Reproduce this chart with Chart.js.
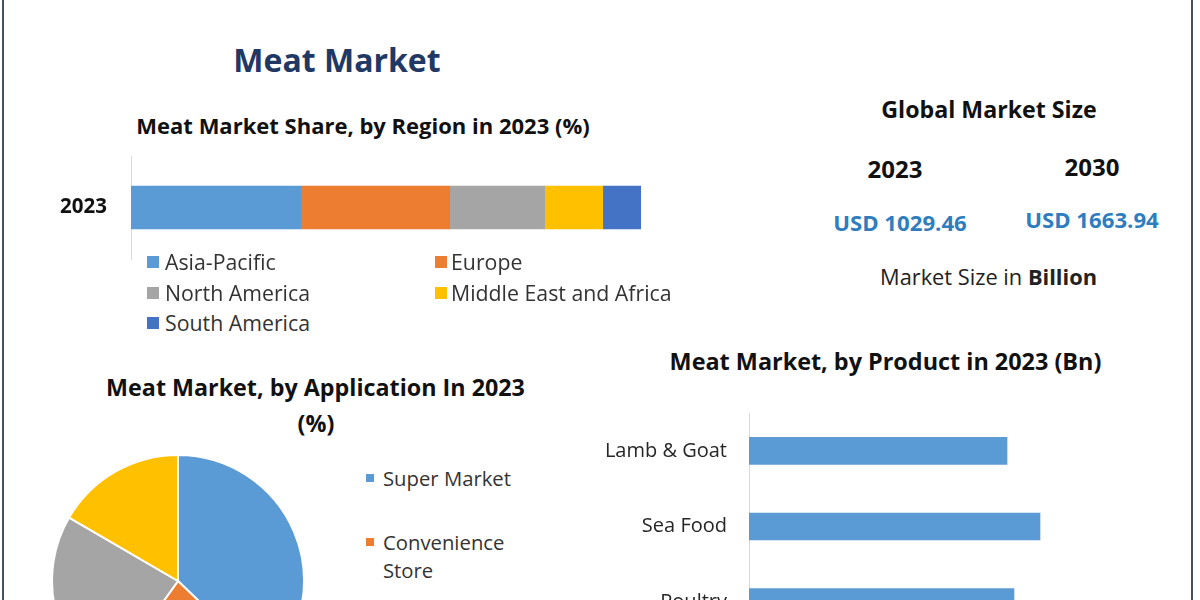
<!DOCTYPE html>
<html>
<head>
<meta charset="utf-8">
<script src="https://cdn.jsdelivr.net/npm/chart.js@4.4.0/dist/chart.umd.min.js"></script>
<style>
  html, body { margin: 0; padding: 0; background: #fff; }
  body { width: 1200px; height: 600px; overflow: hidden; font-family: 'Open Sans', sans-serif; }
  #page { position: relative; width: 1200px; height: 600px; overflow: hidden; background: #fff; }
  .edge { position: absolute; top: 0; width: 2px; height: 600px; background: #44525f; }
  .t { position: absolute; white-space: nowrap; line-height: 1; transform: translate(-50%, -50%); color: #111; }
  .b { font-weight: 700; }
  canvas { position: absolute; }
  .leg { position: absolute; white-space: nowrap; line-height: 1; transform: translateY(-50%); color: #333; font-size: 21.3px; }
  .sq { position: absolute; }
  #appLegend { position: absolute; left: 366px; top: 464px; width: 170px; }
  .ai { position: relative; padding-left: 17px; font-size: 20.3px; line-height: 28px; color: #333; margin-bottom: 36px; }
  .ai span.m { position: absolute; left: 0; top: 10px; width: 8px; height: 8px; }
</style>
</head>
<body>
<div id="page">
  <div class="edge" style="left:2px"></div>
  <div class="edge" style="left:1191px"></div>
  <canvas id="regionChart" width="601" height="115" style="left:40px; top:150px"></canvas>
  <canvas id="appChart" width="258" height="258" style="left:49px; top:452px"></canvas>
  <canvas id="productChart" width="569" height="227" style="left:580px; top:413px"></canvas>
  <div id="appLegend"></div>
</div>
<script>
// ---- data ----
const pageTitle = 'Meat Market';
const regionTitle = 'Meat Market Share, by Region in 2023 (%)';
const regionYears = ['2023'];
const regionLabels = ['Asia-Pacific', 'Europe', 'North America', 'Middle East and Africa', 'South America'];
const regionShares = [33.3, 29.2, 18.6, 11.4, 7.5];
const regionColors = ['#5b9bd5', '#ed7d31', '#a5a5a5', '#ffc000', '#4472c4'];

const sizeTitle = 'Global Market Size';
const marketYears = ['2023', '2030'];
const marketSizes = [1029.46, 1663.94];
const sizeNoteText = 'Market Size in ';
const sizeNoteUnit = 'Billion';

const appTitleLines = ['Meat Market, by Application In 2023', '(%)'];
const appLabels = ['Super Market', 'Convenience Store', 'Online Store', 'Others'];
const appShares = [37.2, 22.7, 23.5, 16.6];
const appColors = ['#5b9bd5', '#ed7d31', '#a5a5a5', '#ffc000'];

const productTitle = 'Meat Market, by Product in 2023 (Bn)';
const productLabels = ['Lamb & Goat', 'Sea Food', 'Poultry'];
const productValues = [258, 291, 265];
const productColor = '#5b9bd5';

// ---- text helpers ----
const page = document.getElementById('page');
function addText(html, x, y, size, opts) {
  opts = opts || {};
  const d = document.createElement('div');
  d.className = 't' + (opts.bold ? ' b' : '');
  d.style.left = x + 'px';
  d.style.top = y + 'px';
  d.style.fontSize = size + 'px';
  if (opts.color) d.style.color = opts.color;
  d.innerHTML = html;
  page.appendChild(d);
  return d;
}
function esc(s) { return s.replace(/&/g, '&amp;').replace(/</g, '&lt;'); }

addText(esc(pageTitle), 337, 60, 32, { bold: true, color: '#1f3864' });
addText(esc(regionTitle), 363, 125, 22, { bold: true });
addText(esc(sizeTitle), 989, 110, 23.2, { bold: true });
const yearX = [895, 1092], yearY = [169, 167], usdY = [223, 220];
marketYears.forEach((yr, i) => {
  addText(esc(yr), yearX[i], yearY[i], 24, { bold: true });
  addText('USD ' + marketSizes[i].toFixed(2), yearX[i] + 5 * (1 - i), usdY[i], 22.2, { bold: true, color: '#2e7dbf' });
});
addText(esc(sizeNoteText) + '<b>' + esc(sizeNoteUnit) + '</b>', 988.5, 277, 21.8, { color: '#222' });
addText(esc(appTitleLines[0]), 315.5, 388, 23.3, { bold: true });
addText(esc(appTitleLines[1]), 316, 424, 23.3, { bold: true });
addText(esc(productTitle), 885.5, 362, 23.4, { bold: true });

// region legend (two columns)
const colSq = [147, 435], colTx = [165, 451], rowY = [262, 292.5, 323];
regionLabels.forEach((lab, i) => {
  const c = i % 2, r = Math.floor(i / 2);
  const sq = document.createElement('div');
  sq.className = 'sq';
  sq.style.cssText = `left:${colSq[c]}px; top:${rowY[r] - 6}px; width:12px; height:12px; background:${regionColors[i]}`;
  page.appendChild(sq);
  const t = document.createElement('div');
  t.className = 'leg';
  t.style.left = colTx[c] + 'px';
  t.style.top = rowY[r] + 'px';
  t.textContent = lab;
  page.appendChild(t);
});

// application legend
const appLeg = document.getElementById('appLegend');
appLabels.forEach((lab, i) => {
  const it = document.createElement('div');
  it.className = 'ai';
  it.innerHTML = `<span class="m" style="background:${appColors[i]}"></span>${esc(lab)}`;
  appLeg.appendChild(it);
});

// ---- charts ----
Chart.defaults.font.family = "'Open Sans', sans-serif";
Chart.defaults.animation = false;
Chart.defaults.plugins.legend.display = false;
Chart.defaults.plugins.tooltip.enabled = false;

function fixAxis(width) {
  return (s) => { s.width = width; s.paddingTop = 0; s.paddingBottom = 0; };
}

new Chart(document.getElementById('regionChart'), {
  type: 'bar',
  data: {
    labels: regionYears,
    datasets: regionLabels.map((lab, i) => ({
      label: lab,
      data: [regionShares[i]],
      backgroundColor: regionColors[i],
      barThickness: 43,
      borderWidth: 0
    }))
  },
  options: {
    indexAxis: 'y',
    responsive: false,
    layout: { padding: { top: 6, bottom: 6, left: 0, right: 0 } },
    scales: {
      x: { stacked: true, min: 0, max: 100, display: false },
      y: {
        stacked: true,
        grid: { display: false, drawTicks: false },
        border: { display: true, color: '#d9d9d9', width: 1 },
        ticks: { font: { size: 20.5, weight: 'bold' }, color: '#111', padding: 24 },
        afterFit: fixAxis(91)
      }
    }
  }
});

new Chart(document.getElementById('appChart'), {
  type: 'pie',
  data: {
    labels: appLabels,
    datasets: [{ data: appShares, backgroundColor: appColors, borderColor: '#ffffff', borderWidth: 2 }]
  },
  options: {
    responsive: false,
    layout: { padding: 2 }
  }
});

new Chart(document.getElementById('productChart'), {
  type: 'bar',
  data: {
    labels: productLabels,
    datasets: [{ data: productValues, backgroundColor: productColor, barThickness: 27, borderWidth: 0 }]
  },
  options: {
    indexAxis: 'y',
    responsive: false,
    layout: { padding: 0 },
    scales: {
      x: { min: 0, max: 400, display: false },
      y: {
        grid: { display: false, drawTicks: false },
        border: { display: true, color: '#d9d9d9', width: 1 },
        ticks: { font: { size: 20 }, color: '#262626', padding: 22 },
        afterFit: fixAxis(169)
      }
    }
  }
});
</script>
</body>
</html>
